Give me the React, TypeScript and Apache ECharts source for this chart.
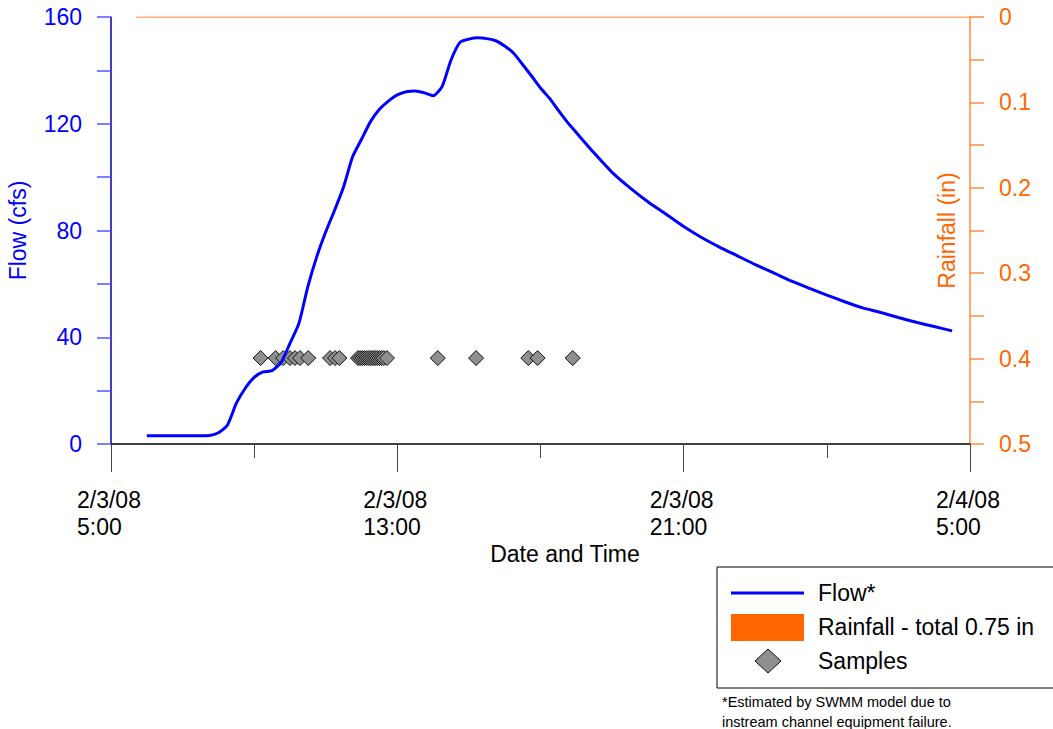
import React, { useEffect, useRef } from "react";
import * as echarts from "echarts";

// Hours since 2/3/08 5:00
const xTickHours = [0, 8, 16, 24];
const xTickLines1 = ["2/3/08", "2/3/08", "2/3/08", "2/4/08"];
const xTickLines2 = ["5:00", "13:00", "21:00", "5:00"];

const flowHours = [
  1.0, 1.5, 2.0, 2.5, 2.75, 3.0, 3.25, 3.5, 3.75, 4.0, 4.25, 4.5, 4.75, 5.0, 5.25, 5.5, 5.75,
  6.0, 6.25, 6.5, 6.75, 7.0, 7.25, 7.5, 7.75, 8.0, 8.25, 8.5, 8.75, 9.0, 9.25, 9.5, 9.75,
  10.0, 10.25, 10.5, 10.75, 11.0, 11.25, 11.5, 11.75, 12.0, 12.25, 12.5, 12.75, 13.0, 13.5,
  14.0, 14.5, 15.0, 15.5, 16.0, 16.5, 17.0, 17.5, 18.0, 18.5, 19.0, 19.5, 20.0, 20.5, 21.0,
  21.5, 22.0, 22.5, 23.0, 23.5,
];
const flowCfs = [
  3.1, 3.1, 3.1, 3.1, 3.2, 4.2, 7.0, 15.2, 20.9, 25.0, 27.0, 27.5, 30.5, 37.7, 45.2, 59.0, 70.2,
  79.5, 87.7, 96.4, 107.6, 114.2, 120.8, 125.4, 128.5, 130.8, 132.0, 132.3, 131.6, 130.5, 133.9, 143.9, 150.5,
  151.7, 152.2, 151.9, 151.1, 149.1, 146.4, 142.2, 137.9, 133.4, 129.6, 125.0, 120.6, 116.7, 109.0,
  101.8, 96.0, 90.8, 86.2, 81.5, 77.4, 73.8, 70.5, 67.2, 64.2, 61.1, 58.4, 55.8, 53.3, 51.0,
  49.3, 47.4, 45.6, 44.0, 42.4,
];

const sampleHours = [
  4.18, 4.6, 4.81, 5.0, 5.14, 5.28, 5.51, 6.12, 6.26, 6.38,
  6.9, 6.96, 7.02, 7.08, 7.14, 7.2, 7.26, 7.32, 7.38, 7.44, 7.5, 7.56, 7.62, 7.71,
  9.13, 10.2, 11.66, 11.92, 12.9,
];
const sampleCfs = [
  32.2, 32.2, 32.2, 32.2, 32.2, 32.2, 32.2, 32.2, 32.2, 32.2,
  32.2, 32.2, 32.2, 32.2, 32.2, 32.2, 32.2, 32.2, 32.2, 32.2, 32.2, 32.2, 32.2, 32.2,
  32.2, 32.2, 32.2, 32.2, 32.2,
];

const rainHours = [0.7, 24];
const rainInches = [0, 0];

const legendNames = ["Flow*", "Rainfall - total 0.75 in", "Samples"];
const footnoteLines = ["*Estimated by SWMM model due to", "instream channel equipment failure."];

const FONT = "'Liberation Sans', Arial, sans-serif";
const BLUE = "#0000ff";
const ORANGE = "#ff6600";
const FS = 23;

export default function App() {
  const ref = useRef<HTMLDivElement>(null);
  useEffect(() => {
    if (!ref.current) return;
    const chart = echarts.init(ref.current, null, { renderer: "svg" });
    const option: any = {
      animation: false,
      textStyle: { fontFamily: FONT },
      grid: { left: 111, right: 83, top: 17, bottom: 285, outerBoundsMode: "none" },
      xAxis: {
        type: "value",
        min: 0,
        max: 24,
        interval: 8,
        name: "Date and Time",
        nameLocation: "middle",
        nameGap: 97,
        nameTextStyle: { fontSize: FS, color: "#000", fontFamily: FONT, padding: [0, 0, 0, 49] },
        axisLine: { show: true, onZero: false, lineStyle: { color: "#000", width: 1.5 } },
        axisTick: { show: true, length: 28, lineStyle: { color: "#444", width: 1 } },
        minorTick: { show: true, splitNumber: 2, length: 14, lineStyle: { color: "#444", width: 1 } },
        splitLine: { show: false },
        axisLabel: {
          margin: 42,
          formatter: (v: number) => {
            const i = xTickHours.indexOf(Math.round(v));
            if (i < 0) return "";
            return `{a|${xTickLines1[i]}}\n{a|${xTickLines2[i]}}`;
          },
          rich: {
            a: { width: 68, align: "left", fontSize: FS, lineHeight: 27, color: "#000", fontFamily: FONT },
          },
        },
      },
      yAxis: [
        {
          type: "value",
          min: 0,
          max: 160,
          interval: 20,
          position: "left",
          name: "Flow (cfs)",
          nameLocation: "middle",
          nameRotate: 90,
          nameGap: 82,
          nameTextStyle: { fontSize: FS, color: BLUE, fontFamily: FONT },
          axisLine: { show: true, lineStyle: { color: "#0000aa", width: 1.5 } },
          axisTick: { show: true, length: 14, lineStyle: { color: "#5555ff", width: 1.5 } },
          splitLine: { show: false },
          axisLabel: {
            margin: 29,
            fontSize: FS,
            color: BLUE,
            fontFamily: FONT,
            formatter: (v: number) => (Math.round(v) % 40 === 0 ? String(Math.round(v)) : ""),
          },
        },
        {
          type: "value",
          min: 0,
          max: 0.5,
          interval: 0.05,
          inverse: true,
          position: "right",
          name: "Rainfall (in)",
          nameLocation: "middle",
          nameRotate: 90,
          nameGap: -35,
          nameTextStyle: { fontSize: FS, color: ORANGE, fontFamily: FONT },
          axisLine: { show: true, lineStyle: { color: "#ff8c40", width: 1.5 } },
          axisTick: { show: true, length: 14, lineStyle: { color: "#ff8c40", width: 1.5 } },
          splitLine: { show: false },
          axisLabel: {
            margin: 29,
            fontSize: FS,
            color: ORANGE,
            fontFamily: FONT,
            formatter: (v: number) => {
              const h = Math.round(v * 100);
              return h % 10 === 0 ? String(h / 100) : "";
            },
          },
        },
      ],
      series: [
        {
          name: legendNames[2],
          type: "scatter",
          yAxisIndex: 0,
          symbol: "diamond",
          symbolSize: [15, 15],
          itemStyle: { color: "#8f8f8f", borderColor: "#111", borderWidth: 1, opacity: 1 },
          data: sampleHours.map((h, i) => [h, sampleCfs[i]]),
          z: 2,
        },
        {
          name: legendNames[1],
          type: "line",
          yAxisIndex: 1,
          showSymbol: false,
          lineStyle: { color: ORANGE, width: 1.2 },
          itemStyle: { color: ORANGE },
          data: rainHours.map((h, i) => [h, rainInches[i]]),
          z: 2,
        },
        {
          name: legendNames[0],
          type: "line",
          yAxisIndex: 0,
          showSymbol: false,
          smooth: 0.2,
          lineStyle: { color: BLUE, width: 3 },
          itemStyle: { color: BLUE },
          data: flowHours.map((h, i) => [h, flowCfs[i]]),
          z: 3,
        },
      ],
      graphic: [
        {
          type: "rect",
          shape: { x: 717, y: 567, width: 345, height: 121 },
          style: { fill: "#fff", stroke: "#000", lineWidth: 1 },
        },
        {
          type: "line",
          shape: { x1: 731, y1: 593, x2: 804, y2: 593 },
          style: { stroke: BLUE, lineWidth: 3 },
        },
        {
          type: "rect",
          shape: { x: 731, y: 614, width: 73, height: 27 },
          style: { fill: ORANGE },
        },
        {
          type: "polygon",
          shape: { points: [[768, 649], [781, 661], [768, 673], [755, 661]] },
          style: { fill: "#8f8f8f", stroke: "#111", lineWidth: 1 },
        },
        ...legendNames.map((n, i) => ({
          type: "text",
          x: 818,
          y: 593 + i * 34,
          style: { text: n, fontSize: FS, fontFamily: FONT, fill: "#000", verticalAlign: "middle" },
        })),
        ...footnoteLines.map((t, i) => ({
          type: "text",
          x: 722,
          y: 702 + i * 20,
          style: { text: t, fontSize: 14.5, fontFamily: FONT, fill: "#000", verticalAlign: "middle" },
        })),
      ],
    };
    chart.setOption(option);
    return () => chart.dispose();
  }, []);
  return <div ref={ref} style={{ position: "fixed", left: 0, top: 0, width: 1053, height: 729, background: "#fff" }} />;
}
